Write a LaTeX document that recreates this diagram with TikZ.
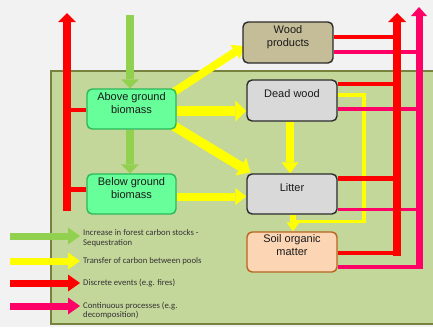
\documentclass[tikz,border=0pt]{standalone}
\usepackage{fontspec}
\setmainfont{Liberation Sans}
\newfontfamily\legendfont{Carlito}
\usetikzlibrary{arrows.meta}
\definecolor{bg}{HTML}{F2F2F2}
\definecolor{panel}{HTML}{C4D79B}
\definecolor{panelborder}{HTML}{77823F}
\definecolor{seqgreen}{HTML}{92D050}
\definecolor{transyellow}{HTML}{FFFF00}
\definecolor{discred}{HTML}{FF0000}
\definecolor{contpink}{HTML}{FF0066}
\definecolor{biofill}{HTML}{66FF99}
\definecolor{bioborder}{HTML}{2DB85A}
\definecolor{woodfill}{HTML}{C4BD97}
\definecolor{greyfill}{HTML}{D9D9D9}
\definecolor{soilfill}{HTML}{FCD5B5}
\definecolor{soilborder}{HTML}{B7651E}
\definecolor{boxborder}{HTML}{2B2B2B}
\definecolor{txt}{HTML}{1A1A1A}
\definecolor{legtxt}{HTML}{333333}
\pgfdeclarelayer{groundlayer}
\pgfdeclarelayer{linelayer}
\pgfsetlayers{groundlayer,linelayer,main}
\begin{document}
\begin{tikzpicture}[x=1pt,y=-1pt,
  pool/.style={draw, rounded corners=5pt, line width=1.4pt, minimum width=89pt, minimum height=40pt, inner sep=0pt},
  pooltext/.style={anchor=north, align=center, font=\fontsize{11}{13.5}\selectfont, text=txt, inner sep=0pt},
  legtext/.style={anchor=west, align=left, font=\legendfont\fontsize{8.7}{9.8}\selectfont, text=legtxt, inner sep=0pt},
  seqarrow/.style={seqgreen, line width=8pt, -{Triangle[length=9pt,width=18pt,line width=0pt]}},
  bigyellow/.style={transyellow, line width=9.5pt, -{Triangle[length=11pt,width=21pt,line width=0pt]}},
  yellowarrow/.style={transyellow, line width=8pt, -{Triangle[length=11pt,width=17pt,line width=0pt]}},
  smallyellow/.style={transyellow, line width=6pt, -{Triangle[length=9pt,width=13pt,line width=0pt]}},
  thinyellow/.style={transyellow, line width=3.5pt},
  redshaft/.style={discred, line width=8pt, -{Triangle[length=9pt,width=18pt,line width=0pt]}},
  redbranch/.style={discred, line width=4.5pt},
  pinkshaft/.style={contpink, line width=7pt, -{Triangle[length=9pt,width=16pt,line width=0pt]}},
  pinkbranch/.style={contpink, line width=3.5pt},
  legarrow/.style={line width=7pt, -{Triangle[length=12pt,width=17pt,line width=0pt]}}
]
\useasboundingbox (0,0) rectangle (433,327);
\clip (0,0) rectangle (433,327);
\begin{pgfonlayer}{groundlayer}
\fill[bg] (0,0) rectangle (433,327);
\fill[panel, draw=panelborder, line width=1.2pt] (51,71) rectangle (445,324);
\end{pgfonlayer}

% pools
\node[pool, fill=biofill, draw=bioborder] (agb) at (131.5,109) {};
\node[pool, fill=biofill, draw=bioborder] (bgb) at (131.5,194) {};
\node[pool, fill=woodfill, draw=boxborder, minimum width=90pt, minimum height=41pt] (wp) at (288,42.5) {};
\node[pool, fill=greyfill, draw=boxborder, minimum width=90pt, minimum height=41pt] (dw) at (292,100.5) {};
\node[pool, fill=greyfill, draw=boxborder, minimum width=90pt] (lit) at (292,194) {};
\node[pool, fill=soilfill, draw=soilborder, minimum width=90pt] (som) at (292,252) {};

% coordinates for shafts
\coordinate (gtop) at (130,15);
\coordinate (rl) at (67,0);
\coordinate (rr) at (397,0);
\coordinate (pk) at (419,0);

\begin{pgfonlayer}{linelayer}
% thin yellow return line
\draw[thinyellow] (dw.east |- 0,95) -- (364,95) -- (364,221.5) -- (293,221.5);

% pink branches and shaft
\draw[pinkbranch] (wp.east |- 0,52) -- (pk |- 0,52);
\draw[pinkbranch] (dw.east |- 0,109) -- (pk |- 0,109);
\draw[pinkbranch] (lit.east |- 0,209.5) -- (pk |- 0,209.5);
\draw[pinkbranch] (som.east |- 0,267) -- (pk |- 0,267);
\draw[pinkshaft] (pk |- 0,269) -- (pk |- 0,7);

% red right branches and shaft
\draw[redbranch] (wp.east |- 0,37) -- (rr |- 0,37);
\draw[redbranch] (dw.east |- 0,84) -- (rr |- 0,84);
\draw[redbranch] (lit.east |- 0,178.5) -- (rr |- 0,178.5);
\draw[redbranch] (som.east |- 0,253) -- (rr |- 0,253);
\draw[redshaft] (rr |- 0,255.5) -- (rr |- 0,13);

% red left
\draw[redbranch] (agb.west |- 0,110) -- (rl |- 0,110);
\draw[redbranch] (bgb.west |- 0,189.5) -- (rl |- 0,189.5);
\draw[redshaft] (rl |- 0,211) -- (rl |- 0,13);

% green sequestration
\draw[seqarrow] (gtop) -- (gtop |- agb.north);
\draw[seqarrow] (agb.south -| gtop) -- (bgb.north -| gtop);

% yellow transfers
\draw[yellowarrow] ([shift={(-11,9)}]agb.north east) -- ([shift={(2,3.5)}]wp.west);
\draw[bigyellow] (agb.east |- 0,111) -- (dw.west |- 0,111);
\draw[bigyellow] ([shift={(-10,-8)}]agb.south east) -- ([shift={(4,-1)}]lit.north west);
\draw[yellowarrow] (dw.south -| 290,0) -- (lit.north -| 290,0);
\draw[yellowarrow] (bgb.east |- 0,196.5) -- (lit.west |- 0,196.5);
\draw[smallyellow] (lit.south -| 293,0) -- (som.north -| 293,0);
\end{pgfonlayer}

% pool texts
\node[pooltext] at ([yshift=-4pt]agb.north) {Above ground\\biomass};
\node[pooltext] at ([yshift=-4pt]bgb.north) {Below ground\\biomass};
\node[pooltext] at ([yshift=-4pt]wp.north) {Wood\\products};
\node[pooltext] at ([yshift=-10.5pt]dw.north) {Dead wood};
\node[pooltext] at ([yshift=-10pt]lit.north) {Litter};
\node[pooltext] at ([yshift=-3pt]som.north) {Soil organic\\matter};

% legend
\coordinate (lg1) at (10,236);
\coordinate (lg2) at (10,261);
\coordinate (lg3) at (10,283);
\coordinate (lg4) at (10,306);
\draw[legarrow, seqgreen] (lg1) -- ++(70,0);
\draw[legarrow, transyellow] (lg2) -- ++(70,0);
\draw[legarrow, discred] (lg3) -- ++(70,0);
\draw[legarrow, contpink] (lg4) -- ++(70,0);
\node[legtext] (lt1) at (83,238.5) {Increase in forest carbon stocks -\\Sequestration};
\node[legtext] (lt2) at (83,261) {Transfer of carbon between pools};
\node[legtext] (lt3) at (83,283) {Discrete events (e.g. fires)};
\node[legtext] (lt4) at (83,310.5) {Continuous processes (e.g.\\decomposition)};
\end{tikzpicture}
\end{document}
